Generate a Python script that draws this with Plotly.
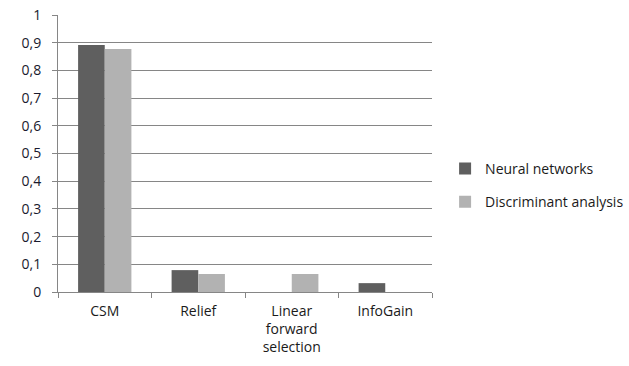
import plotly.graph_objects as go

categories = ["CSM", "Relief", "Linear<br>forward<br>selection", "InfoGain"]
neural_networks = [0.892, 0.079, 0, 0.032]
discriminant_analysis = [0.877, 0.065, 0.065, 0]
y_tick_vals = [0, 0.1, 0.2, 0.3, 0.4, 0.5, 0.6, 0.7, 0.8, 0.9, 1]
y_tick_text = ["0", "0,1", "0,2", "0,3", "0,4", "0,5", "0,6", "0,7", "0,8", "0,9", "1"]

font_family = "Open Sans, DejaVu Sans, sans-serif"

fig = go.Figure()
fig.add_trace(go.Bar(x=categories, y=neural_networks, name="Neural networks",
                     marker=dict(color="#5f5f5f", line=dict(width=0)),
                     legendgroup="a"))
fig.add_trace(go.Bar(x=categories, y=discriminant_analysis, name="Discriminant analysis",
                     marker=dict(color="#b2b2b2", line=dict(width=0)),
                     legendgroup="b"))

fig.update_layout(
    width=629, height=366,
    margin=dict(l=58, r=197, t=15, b=74, autoexpand=False),
    paper_bgcolor="white", plot_bgcolor="white",
    barmode="group", bargap=0.43, bargroupgap=0,
    font=dict(family=font_family, size=14, color="#1a1a1a"),
    legend=dict(x=1.035, y=0.385, xanchor="left", yanchor="middle",
                font=dict(size=14, color="#1a1a1a"),
                traceorder="grouped", tracegroupgap=12,
                itemwidth=30),
    xaxis=dict(showline=True, linecolor="#868686", linewidth=1,
               ticks="outside", ticklen=5, tickcolor="#868686",
               tickson="boundaries", showgrid=False,
               ticklabelstandoff=6,
               tickfont=dict(size=14)),
    yaxis=dict(range=[0, 1], tickvals=y_tick_vals, ticktext=y_tick_text,
               showgrid=True, gridcolor="#868686", gridwidth=1,
               showline=True, linecolor="#868686", linewidth=1,
               ticks="outside", ticklen=5, tickcolor="#868686",
               ticklabelstandoff=8,
               zeroline=False, tickfont=dict(size=14, color="#1a1a2e")),
)

fig.write_html("out.html")
